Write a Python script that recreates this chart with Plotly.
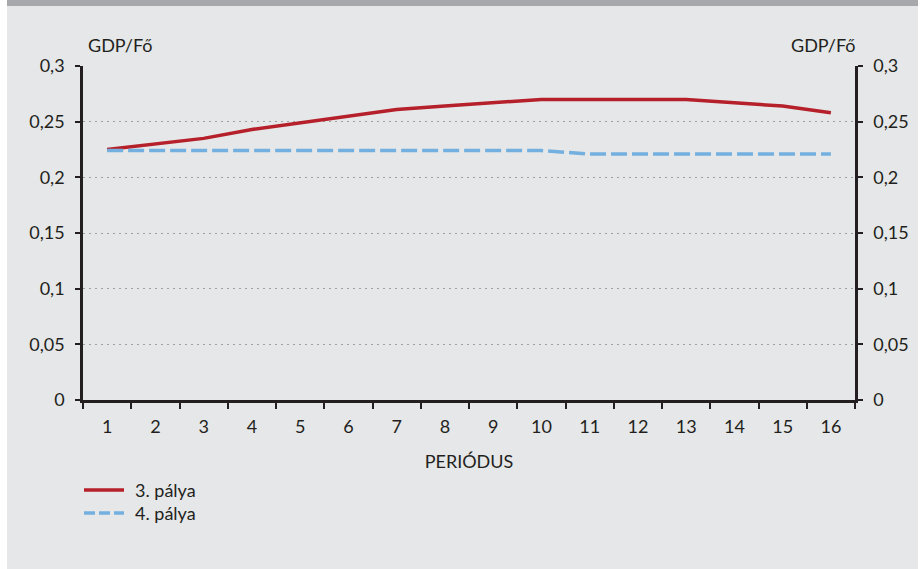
import plotly.graph_objects as go

periods = [str(i) for i in range(1, 17)]
palya3 = [0.225, 0.23, 0.235, 0.243, 0.249, 0.255, 0.261, 0.264, 0.267, 0.27,
          0.27, 0.27, 0.27, 0.267, 0.264, 0.258]
palya4 = [0.224, 0.224, 0.224, 0.224, 0.224, 0.224, 0.224, 0.224, 0.224, 0.224,
          0.221, 0.221, 0.221, 0.221, 0.221, 0.221]
y_ticks = [0, 0.05, 0.1, 0.15, 0.2, 0.25, 0.3]
y_ticklabels = ["0", "0,05", "0,1", "0,15", "0,2", "0,25", "0,3"]
axis_title = "GDP/Fő"
x_title = "PERIÓDUS"
names = ["3. pálya", "4. pálya"]
colors = ["#b5202a", "#74b0df"]
dashes = ["solid", "16px,5px"]
legend_dashes = ["solid", "11px,4px"]

W, H = 923, 569
L, R, T, B = 83, 855, 66, 400

def px(x):
    return (x - L) / (R - L)

def py(y):
    return (B - y) / (B - T)

font_fam = "Lato, Carlito, sans-serif"
txt = "#231f20"
fs = 18

fig = go.Figure()
fig.add_trace(go.Scatter(x=periods, y=palya3, name=names[0], mode="lines",
                         line=dict(color=colors[0], width=3.5), showlegend=False))
fig.add_trace(go.Scatter(x=periods, y=palya4, name=names[1], mode="lines",
                         line=dict(color=colors[1], width=3.5, dash=dashes[1]), showlegend=False))
fig.add_trace(go.Scatter(x=periods, y=palya3, yaxis="y2", mode="lines",
                         line=dict(width=0), opacity=0, showlegend=False,
                         hoverinfo="skip"))

yax = dict(range=[0, 0.3], tickvals=y_ticks, ticktext=y_ticklabels,
           ticks="outside", ticklen=5, tickwidth=2, tickcolor=txt,
           showline=True, linewidth=2.5, linecolor=txt, zeroline=False,
           ticklabelstandoff=7,
           tickfont=dict(family=font_fam, size=fs, color=txt), fixedrange=True)

font = dict(family=font_fam, size=fs, color=txt)

annotations = [
    dict(text=axis_title, x=px(120), y=py(45), xref="paper", yref="paper",
         xanchor="center", yanchor="middle", showarrow=False, font=font),
    dict(text=axis_title, x=px(823), y=py(45), xref="paper", yref="paper",
         xanchor="center", yanchor="middle", showarrow=False, font=font),
]
shapes = [
    dict(type="rect", xref="paper", yref="paper", x0=px(-5), x1=px(7),
         y0=py(575), y1=py(-5), fillcolor="white", line=dict(width=0), layer="below"),
    dict(type="rect", xref="paper", yref="paper", x0=px(918), x1=px(930),
         y0=py(575), y1=py(-5), fillcolor="white", line=dict(width=0), layer="below"),
    dict(type="rect", xref="paper", yref="paper", x0=px(7), x1=px(918),
         y0=py(6), y1=py(-5), fillcolor="#a6a8ab", line=dict(width=0), layer="below"),
]
# legend drawn manually
for i, (nm, c, d) in enumerate(zip(names, colors, legend_dashes)):
    yy = 490 + 23 * i
    shapes.append(dict(type="line", xref="paper", yref="paper", x0=px(84), x1=px(124),
                       y0=py(yy), y1=py(yy), line=dict(color=c, width=3.5, dash=d)))
    annotations.append(dict(text=nm, x=px(133), y=py(yy), xref="paper", yref="paper",
                            xanchor="left", yanchor="middle", showarrow=False, font=font))

fig.update_layout(
    width=W, height=H,
    margin=dict(l=L, r=W - R, t=T, b=H - B),
    paper_bgcolor="#e6e7e8", plot_bgcolor="#e6e7e8",
    font=font,
    xaxis=dict(type="category", range=[-0.5, 15.5], tickson="boundaries",
               ticks="outside", ticklen=6, tickwidth=2, tickcolor=txt,
               showline=True, linewidth=2.5, linecolor=txt, showgrid=False,
               ticklabelstandoff=9, tickfont=font, fixedrange=True,
               title=dict(text=x_title, font=font, standoff=20)),
    yaxis=dict(**yax, showgrid=True, gridcolor="#a0a0a0", gridwidth=1, griddash="2px,4px"),
    yaxis2=dict(**yax, overlaying="y", side="right", showgrid=False),
    showlegend=False,
    annotations=annotations,
    shapes=shapes,
)

fig.write_html("out.html", config={"displayModeBar": False},
               post_script="document.body.style.margin='0';document.body.style.overflow='hidden';")
